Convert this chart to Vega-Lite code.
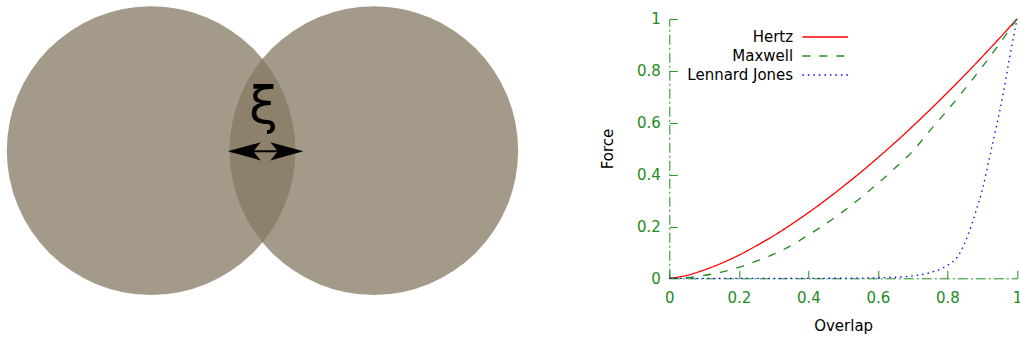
{
  "$schema": "https://vega.github.io/schema/vega-lite/v6.json",
  "padding": {"left": 5.8, "top": 5.9, "right": 5, "bottom": 5},
  "bounds": "flush",
  "spacing": 142.5,
  "config": {"view": {"stroke": null}, "font": "DejaVu Sans"},
  "hconcat": [
    {
      "width": 520,
      "height": 259.4,
      "layer": [
        {
          "data": {"values": [{"cx": -0.771, "cy": 0}, {"cx": 0.771, "cy": 0}]},
          "mark": {"type": "point", "shape": "circle", "filled": true, "size": 83290, "color": "#857862", "opacity": 0.75, "strokeWidth": 0},
          "encoding": {
            "x": {"field": "cx", "type": "quantitative", "scale": {"domain": [-1.77, 1.83], "nice": false, "zero": false}, "axis": null},
            "y": {"field": "cy", "type": "quantitative", "scale": {"domain": [-0.884, 0.912], "nice": false, "zero": false}, "axis": null}
          }
        },
        {
          "data": {"values": [{"cx": 0.008, "cy": 0.3, "label": "ξ"}]},
          "mark": {"type": "text", "fontSize": 52, "font": "DejaVu Sans", "color": "black", "align": "center", "baseline": "middle"},
          "encoding": {
            "x": {"field": "cx", "type": "quantitative"},
            "y": {"field": "cy", "type": "quantitative"},
            "text": {"field": "label"}
          }
        },
        {
          "data": {"values": [{"x1": -0.218, "x2": 0.253, "cy": -0.005}]},
          "mark": {"type": "rule", "color": "black", "strokeWidth": 2},
          "encoding": {
            "x": {"field": "x1", "type": "quantitative"},
            "x2": {"field": "x2"},
            "y": {"field": "cy", "type": "quantitative"}
          }
        },
        {
          "data": {"values": [{"cx": -0.126, "cy": -0.005, "dir": "left"}]},
          "mark": {"type": "point", "shape": "M -1 0 L 1 -0.55 L 0.55 0 L 1 0.55 Z", "filled": true, "size": 1089, "color": "black", "opacity": 1, "strokeWidth": 0},
          "encoding": {
            "x": {"field": "cx", "type": "quantitative"},
            "y": {"field": "cy", "type": "quantitative"}
          }
        },
        {
          "data": {"values": [{"cx": 0.169, "cy": -0.005, "dir": "right"}]},
          "mark": {"type": "point", "shape": "M 1 0 L -1 -0.55 L -0.55 0 L -1 0.55 Z", "filled": true, "size": 1089, "color": "black", "opacity": 1, "strokeWidth": 0},
          "encoding": {
            "x": {"field": "cx", "type": "quantitative"},
            "y": {"field": "cy", "type": "quantitative"}
          }
        }
      ]
    },
    {
      "width": 347.7,
      "height": 259.4,
      "data": {"values": [
        {"series": "Hertz", "overlap": 0, "force": 0},
        {"series": "Hertz", "overlap": 0.05, "force": 0.011},
        {"series": "Hertz", "overlap": 0.1, "force": 0.032},
        {"series": "Hertz", "overlap": 0.15, "force": 0.058},
        {"series": "Hertz", "overlap": 0.2, "force": 0.089},
        {"series": "Hertz", "overlap": 0.25, "force": 0.125},
        {"series": "Hertz", "overlap": 0.3, "force": 0.164},
        {"series": "Hertz", "overlap": 0.35, "force": 0.207},
        {"series": "Hertz", "overlap": 0.4, "force": 0.253},
        {"series": "Hertz", "overlap": 0.45, "force": 0.302},
        {"series": "Hertz", "overlap": 0.5, "force": 0.354},
        {"series": "Hertz", "overlap": 0.55, "force": 0.408},
        {"series": "Hertz", "overlap": 0.6, "force": 0.465},
        {"series": "Hertz", "overlap": 0.65, "force": 0.524},
        {"series": "Hertz", "overlap": 0.7, "force": 0.586},
        {"series": "Hertz", "overlap": 0.75, "force": 0.65},
        {"series": "Hertz", "overlap": 0.8, "force": 0.716},
        {"series": "Hertz", "overlap": 0.85, "force": 0.784},
        {"series": "Hertz", "overlap": 0.9, "force": 0.854},
        {"series": "Hertz", "overlap": 0.95, "force": 0.926},
        {"series": "Hertz", "overlap": 1, "force": 1},
        {"series": "Maxwell", "overlap": 0, "force": 0},
        {"series": "Maxwell", "overlap": 0.05, "force": 0.003},
        {"series": "Maxwell", "overlap": 0.1, "force": 0.011},
        {"series": "Maxwell", "overlap": 0.15, "force": 0.024},
        {"series": "Maxwell", "overlap": 0.2, "force": 0.042},
        {"series": "Maxwell", "overlap": 0.25, "force": 0.066},
        {"series": "Maxwell", "overlap": 0.3, "force": 0.093},
        {"series": "Maxwell", "overlap": 0.35, "force": 0.126},
        {"series": "Maxwell", "overlap": 0.4, "force": 0.167},
        {"series": "Maxwell", "overlap": 0.45, "force": 0.21},
        {"series": "Maxwell", "overlap": 0.5, "force": 0.258},
        {"series": "Maxwell", "overlap": 0.55, "force": 0.31},
        {"series": "Maxwell", "overlap": 0.6, "force": 0.366},
        {"series": "Maxwell", "overlap": 0.65, "force": 0.426},
        {"series": "Maxwell", "overlap": 0.7, "force": 0.49},
        {"series": "Maxwell", "overlap": 0.75, "force": 0.57},
        {"series": "Maxwell", "overlap": 0.8, "force": 0.648},
        {"series": "Maxwell", "overlap": 0.85, "force": 0.73},
        {"series": "Maxwell", "overlap": 0.9, "force": 0.815},
        {"series": "Maxwell", "overlap": 0.95, "force": 0.905},
        {"series": "Maxwell", "overlap": 1, "force": 1},
        {"series": "Lennard Jones", "overlap": 0, "force": 0},
        {"series": "Lennard Jones", "overlap": 0.1, "force": 0},
        {"series": "Lennard Jones", "overlap": 0.2, "force": 0},
        {"series": "Lennard Jones", "overlap": 0.3, "force": 0},
        {"series": "Lennard Jones", "overlap": 0.4, "force": 0},
        {"series": "Lennard Jones", "overlap": 0.5, "force": 0.0003},
        {"series": "Lennard Jones", "overlap": 0.6, "force": 0.002},
        {"series": "Lennard Jones", "overlap": 0.65, "force": 0.004},
        {"series": "Lennard Jones", "overlap": 0.7, "force": 0.009},
        {"series": "Lennard Jones", "overlap": 0.75, "force": 0.022},
        {"series": "Lennard Jones", "overlap": 0.8, "force": 0.05},
        {"series": "Lennard Jones", "overlap": 0.83, "force": 0.085},
        {"series": "Lennard Jones", "overlap": 0.86, "force": 0.17},
        {"series": "Lennard Jones", "overlap": 0.88, "force": 0.25},
        {"series": "Lennard Jones", "overlap": 0.9, "force": 0.34},
        {"series": "Lennard Jones", "overlap": 0.92, "force": 0.46},
        {"series": "Lennard Jones", "overlap": 0.94, "force": 0.58},
        {"series": "Lennard Jones", "overlap": 0.96, "force": 0.71},
        {"series": "Lennard Jones", "overlap": 0.98, "force": 0.86},
        {"series": "Lennard Jones", "overlap": 1, "force": 1}
      ]},
      "mark": {"type": "line", "strokeWidth": 1.3, "interpolate": "monotone"},
      "encoding": {
        "x": {
          "field": "overlap", "type": "quantitative",
          "scale": {"domain": [0, 1], "nice": false},
          "axis": {
            "values": [0, 0.2, 0.4, 0.6, 0.8, 1], "format": "~g",
            "title": "Overlap", "titleFontSize": 15, "titleFont": "DejaVu Sans", "titleFontWeight": "normal", "titleColor": "black", "titlePadding": 13,
            "labelFontSize": 15, "labelFont": "DejaVu Sans", "labelColor": "#228b22", "labelPadding": 20, "labelFlush": false, "labelOverlap": false,
            "tickSize": -8, "tickColor": "#228b22", "tickWidth": 1,
            "domainColor": "#228b22", "domainDash": [10, 3, 2, 3], "domainWidth": 1, "grid": false
          }
        },
        "y": {
          "field": "force", "type": "quantitative",
          "scale": {"domain": [0, 1], "nice": false},
          "axis": {
            "values": [0, 0.2, 0.4, 0.6, 0.8, 1], "format": "~g",
            "title": "Force", "titleFontSize": 15, "titleFont": "DejaVu Sans", "titleFontWeight": "normal", "titleColor": "black", "titlePadding": 21,
            "labelFontSize": 15, "labelFont": "DejaVu Sans", "labelColor": "#228b22", "labelPadding": 17, "labelFlush": false, "labelOverlap": false,
            "tickSize": -8, "tickColor": "#228b22", "tickWidth": 1,
            "domainColor": "#228b22", "domainDash": [10, 3, 2, 3], "domainWidth": 1, "grid": false
          }
        },
        "color": {
          "field": "series", "type": "nominal",
          "scale": {"domain": ["Hertz", "Maxwell", "Lennard Jones"], "range": ["#ff0000", "#228b22", "#0000ff"]},
          "legend": {"title": null, "orient": "none", "legendX": 809.9, "legendY": 9.6, "padding": 0, "symbolType": "M -3 0 H 3", "symbolSize": 231, "symbolStrokeWidth": 1.3, "labelAlign": "right", "labelOffset": -40.6, "labelFontSize": 15, "labelFont": "DejaVu Sans", "labelColor": "black", "rowPadding": 2}
        },
        "strokeDash": {
          "field": "series", "type": "nominal",
          "scale": {"domain": ["Hertz", "Maxwell", "Lennard Jones"], "range": [[1, 0], [8, 9], [1.5, 4]]},
          "legend": {"title": null, "orient": "none", "legendX": 809.9, "legendY": 9.6, "padding": 0, "symbolType": "M -3 0 H 3", "symbolSize": 231, "symbolStrokeWidth": 1.3, "labelAlign": "right", "labelOffset": -40.6, "labelFontSize": 15, "labelFont": "DejaVu Sans", "labelColor": "black", "rowPadding": 2}
        }
      }
    }
  ]
}
